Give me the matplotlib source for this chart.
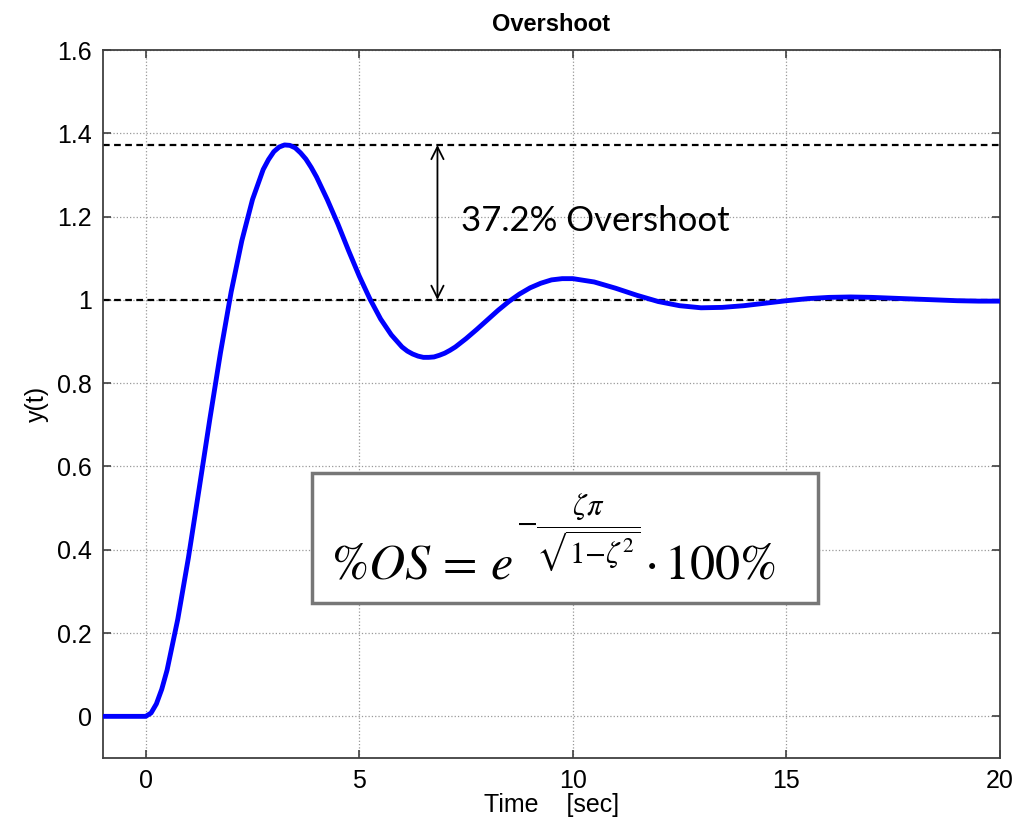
import matplotlib
matplotlib.use("Agg")
import matplotlib.pyplot as plt
from matplotlib.patches import Rectangle

# step response
t = [-1.0, 0.0, 0.125, 0.25, 0.375, 0.5, 0.75, 1.0, 1.25, 1.5, 1.75, 2.0,
     2.25, 2.5, 2.75, 2.875, 3.0, 3.125, 3.25, 3.375, 3.5, 3.625, 3.75,
     3.875, 4.0, 4.25, 4.5, 4.75, 5.0, 5.25, 5.5, 5.75, 6.0, 6.125, 6.25,
     6.375, 6.5, 6.625, 6.75, 6.875, 7.0, 7.125, 7.25, 7.5, 7.75, 8.0,
     8.25, 8.5, 8.75, 9.0, 9.25, 9.5, 9.75, 10.0, 10.5, 11.0, 11.5, 12.0,
     12.5, 13.0, 13.5, 14.0, 14.5, 15.0, 15.5, 16.0, 16.5, 17.0, 17.5,
     18.0, 18.5, 19.0, 19.5, 20.0]
y = [0.0, 0.0, 0.008, 0.030, 0.065, 0.111, 0.233, 0.381, 0.546, 0.713,
     0.873, 1.019, 1.142, 1.241, 1.313, 1.337, 1.356, 1.367, 1.372, 1.371,
     1.365, 1.353, 1.338, 1.318, 1.295, 1.241, 1.182, 1.118, 1.057, 1.002,
     0.954, 0.916, 0.887, 0.877, 0.870, 0.865, 0.862, 0.862, 0.863, 0.867,
     0.872, 0.879, 0.887, 0.907, 0.929, 0.952, 0.975, 0.996, 1.014, 1.029,
     1.040, 1.048, 1.051, 1.051, 1.043, 1.028, 1.011, 0.996, 0.986, 0.981,
     0.982, 0.986, 0.992, 0.998, 1.003, 1.006, 1.007, 1.006, 1.004, 1.002,
     1.000, 0.998, 0.997, 0.997]

peak = 1.372
final = 1.0
arrow_t = 6.83
label = "37.2% Overshoot"
# formula pieces: base, exponent, tail
f_base = r"$\%OS\,=\,e$"
f_exp = r"$-\dfrac{\zeta\pi}{\sqrt{1{-}\zeta^2}}$"
f_tail = r"$\cdot\,100\%$"

plt.rcParams["font.family"] = ["Liberation Sans", "DejaVu Sans"]
plt.rcParams["mathtext.fontset"] = "stix"

fig = plt.figure(figsize=(10.26, 8.30), dpi=100)
ax = fig.add_axes([103 / 1026, 72 / 830, 897 / 1026, 708 / 830])

ax.plot(t, y, color="#0000ff", lw=3.5, solid_capstyle="round",
        solid_joinstyle="round", zorder=3)
ax.axhline(peak, color="black", lw=1.6, ls=(0, (3, 2)), zorder=2)
ax.axhline(final, color="black", lw=1.6, ls=(0, (3, 2)), zorder=2)

ax.annotate("", xy=(arrow_t, peak), xytext=(arrow_t, final),
            arrowprops=dict(arrowstyle="<->", color="black", lw=1.3,
                            mutation_scale=22, shrinkA=0, shrinkB=0))
ax.text(7.38, 1.19, label, fontsize=25, family=["Lato", "DejaVu Sans"],
        va="center", ha="left")

ax.set_xlim(-1, 20)
ax.set_ylim(-0.1, 1.6)
ax.set_xticks([0, 5, 10, 15, 20])
ax.set_yticks([0, 0.2, 0.4, 0.6, 0.8, 1.0, 1.2, 1.4, 1.6])
ax.set_yticklabels(["0", "0.2", "0.4", "0.6", "0.8", "1", "1.2", "1.4", "1.6"])
ax.tick_params(direction="in", top=True, right=True, labelsize=18,
               length=6, width=1.2, color="#404040", pad=8)
for s in ax.spines.values():
    s.set_color("#404040")
    s.set_linewidth(1.3)
ax.grid(True, ls=":", color="#999999", lw=0.9)

ax.set_title("Overshoot", fontsize=17, fontweight="bold", pad=14)
ax.set_xlabel("Time    [sec]", fontsize=18, labelpad=0)
ax.set_ylabel("y(t)", fontsize=18, labelpad=6)

# formula box
ax.add_patch(Rectangle((0.233, 0.219), 0.564, 0.184, transform=ax.transAxes,
                       facecolor="white", edgecolor="#777777", lw=2.5,
                       zorder=4))
ax.text(0.4571, 0.2542, f_base, transform=ax.transAxes, fontsize=36,
        ha="right", va="baseline", zorder=5)
ax.text(0.4605, 0.3192, f_exp, transform=ax.transAxes, fontsize=22,
        ha="left", va="center", zorder=5)
ax.text(0.6035, 0.2542, f_tail, transform=ax.transAxes, fontsize=36,
        ha="left", va="baseline", zorder=5)

fig.savefig("out.png", dpi=100)
